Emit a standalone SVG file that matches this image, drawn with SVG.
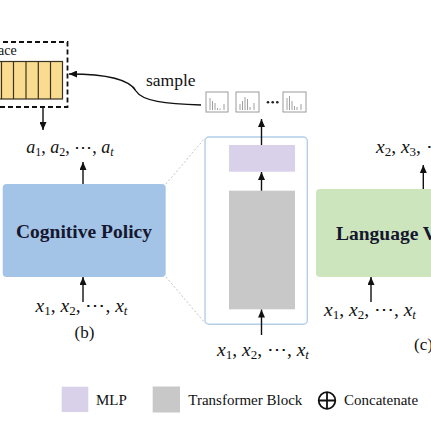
<svg xmlns="http://www.w3.org/2000/svg" width="431" height="432" viewBox="0 0 431 432">
<style>
.serif{font-family:"Liberation Serif","Times New Roman",serif;fill:#111}
.math{font-family:"Liberation Serif","Times New Roman",serif;font-size:18px;fill:#111}
.mx{font-family:"Liberation Serif","Times New Roman",serif;font-size:19.5px;fill:#111}
.mi{font-style:italic}
.bold{font-family:"Liberation Serif","Times New Roman",serif;font-weight:bold;font-size:19.5px;fill:#15172e}
.leg{font-family:"Liberation Serif","Times New Roman",serif;font-size:15px;fill:#111}
.arr{stroke:#111;stroke-width:1.4;fill:none;marker-end:url(#ah)}
.zoomline{stroke:#b5b5b5;stroke-width:0.8;stroke-dasharray:2 2;fill:none}
.hist{fill:#fff;stroke:#9a9a9a;stroke-width:1}
.bar{stroke:#a0a0a0;stroke-width:1}
.cell{stroke:#3b3222;stroke-width:1.2}
</style>
<defs>
<marker id="ah" markerUnits="userSpaceOnUse" markerWidth="8" markerHeight="7" refX="8" refY="3.5" orient="auto">
<path d="M0,0 L8,3.5 L0,7 z" fill="#111"/>
</marker>
</defs>
<rect width="431" height="432" fill="#fff"/>

<g id="action-space">
<rect x="-5" y="42" width="72.5" height="65" fill="#fff" stroke="#111" stroke-width="1.8" stroke-dasharray="5 3"/>
<text class="serif" x="-2" y="55" font-size="14">ace</text>
<rect x="-5" y="61.5" width="67.5" height="37.5" fill="#f9dc8f" class="cell"/>
<line class="cell" x1="1.5" y1="61.5" x2="1.5" y2="99"/>
<line class="cell" x1="13.5" y1="61.5" x2="13.5" y2="99"/>
<line class="cell" x1="26" y1="61.5" x2="26" y2="99"/>
<line class="cell" x1="38.3" y1="61.5" x2="38.3" y2="99"/>
<line class="cell" x1="50.5" y1="61.5" x2="50.5" y2="99"/>
</g>

<g id="actions-label">
<text class="math" x="70" y="153" text-anchor="middle"><tspan class="mi">a</tspan><tspan font-size="12" dy="3">1</tspan><tspan dy="-3">, </tspan><tspan class="mi">a</tspan><tspan font-size="12" dy="3">2</tspan><tspan dy="-3">, ⋯, </tspan><tspan class="mi">a</tspan><tspan class="mi" font-size="12" dy="3">t</tspan></text>
</g>

<g id="sample-label">
<text class="serif" x="146" y="86" font-size="17.5">sample</text>
</g>

<g id="distributions">
<rect class="hist" x="206" y="92" width="22" height="20"/>
<path class="bar" d="M210,110V98M212.5,110V101M215,110V103M217.5,110V108M220,110V108.5M224,110V104"/>
<rect class="hist" x="236" y="92" width="23" height="20"/>
<path class="bar" d="M240,110V104M242.5,110V101M245,110V97M247.5,110V99M250,110V107M254,110V103"/>
<circle cx="268" cy="102.3" r="1.3" fill="#222"/>
<circle cx="272.7" cy="102.3" r="1.3" fill="#222"/>
<circle cx="277.3" cy="102.3" r="1.3" fill="#222"/>
<rect class="hist" x="283" y="92" width="23" height="20"/>
<path class="bar" d="M287,110V98M289.5,110V96M292,110V101M294.5,110V106M297,110V107M301,110V104"/>
</g>

<g id="cognitive-policy">
<rect x="2.7" y="184" width="163" height="93" rx="4" fill="#a4c4e7"/>
<text class="bold" x="84" y="238" text-anchor="middle">Cognitive Policy</text>
</g>

<g id="cp-input">
<text class="mx" x="81.5" y="312" text-anchor="middle"><tspan class="mi">x</tspan><tspan font-size="13" dy="3">1</tspan><tspan dy="-3">, </tspan><tspan class="mi">x</tspan><tspan font-size="13" dy="3">2</tspan><tspan dy="-3">, ⋯, </tspan><tspan class="mi">x</tspan><tspan class="mi" font-size="13" dy="3">t</tspan></text>
<text class="serif" x="84.5" y="338" font-size="17" text-anchor="middle">(b)</text>
</g>

<g id="transformer-panel">
<rect x="205" y="137" width="102.3" height="187.3" rx="4" fill="#fff" stroke="#b3cfe8" stroke-width="1.4"/>
<rect id="mlp" x="229" y="145" width="66" height="26.7" fill="#d9d1ea"/>
<rect id="transformer-block" x="229" y="190.7" width="66" height="118.6" fill="#c8c8c8"/>
</g>

<g id="panel-input">
<text class="mx" x="263" y="356" text-anchor="middle"><tspan class="mi">x</tspan><tspan font-size="13" dy="3">1</tspan><tspan dy="-3">, </tspan><tspan class="mi">x</tspan><tspan font-size="13" dy="3">2</tspan><tspan dy="-3">, ⋯, </tspan><tspan class="mi">x</tspan><tspan class="mi" font-size="13" dy="3">t</tspan></text>
</g>

<g id="language-model">
<rect x="316" y="189" width="125" height="88" rx="4" fill="#cde5bd"/>
<text class="bold" x="336" y="240">Language V</text>
</g>

<g id="lm-labels">
<text class="mx" x="376" y="153"><tspan class="mi">x</tspan><tspan font-size="13" dy="3">2</tspan><tspan dy="-3">, </tspan><tspan class="mi">x</tspan><tspan font-size="13" dy="3">3</tspan><tspan dy="-3">, ⋯</tspan></text>
<text class="mx" x="370" y="316" text-anchor="middle"><tspan class="mi">x</tspan><tspan font-size="13" dy="3">1</tspan><tspan dy="-3">, </tspan><tspan class="mi">x</tspan><tspan font-size="13" dy="3">2</tspan><tspan dy="-3">, ⋯, </tspan><tspan class="mi">x</tspan><tspan class="mi" font-size="13" dy="3">t</tspan></text>
<text class="serif" x="414" y="350" font-size="17">(c)</text>
</g>

<g id="connectors">
<path class="arr" d="M43,107 L43,130"/>
<path class="arr" d="M201,105 C165,104 142,101 136,91 C130,80 110,74 69,74"/>
<path class="arr" d="M83,184 L83,162"/>
<path class="arr" d="M83,302 L83,277"/>
<path class="arr" d="M261.5,145 L261.5,119"/>
<path class="arr" d="M261.5,190.7 L261.5,172"/>
<path class="arr" d="M261.5,335 L261.5,309.5"/>
<path class="arr" d="M423.3,189 L423.3,165"/>
<path class="arr" d="M371,302 L371,277"/>
<path class="zoomline" d="M166,184 L205,138"/>
<path class="zoomline" d="M166,277 L205,323"/>
</g>

<g id="legend">
<rect x="61.7" y="386.7" width="26.6" height="25.3" fill="#d9d1ea"/>
<text class="leg" x="96" y="405">MLP</text>
<rect x="152.7" y="386.5" width="27.3" height="26" fill="#c8c8c8"/>
<text class="leg" x="188.3" y="405">Transformer Block</text>
<circle cx="327" cy="400.5" r="8.3" fill="none" stroke="#111" stroke-width="1.8"/>
<path d="M318.7,400.5 H335.3 M327,392.2 V408.8" stroke="#111" stroke-width="1.8"/>
<text class="leg" x="344" y="405">Concatenate</text>
</g>
</svg>
